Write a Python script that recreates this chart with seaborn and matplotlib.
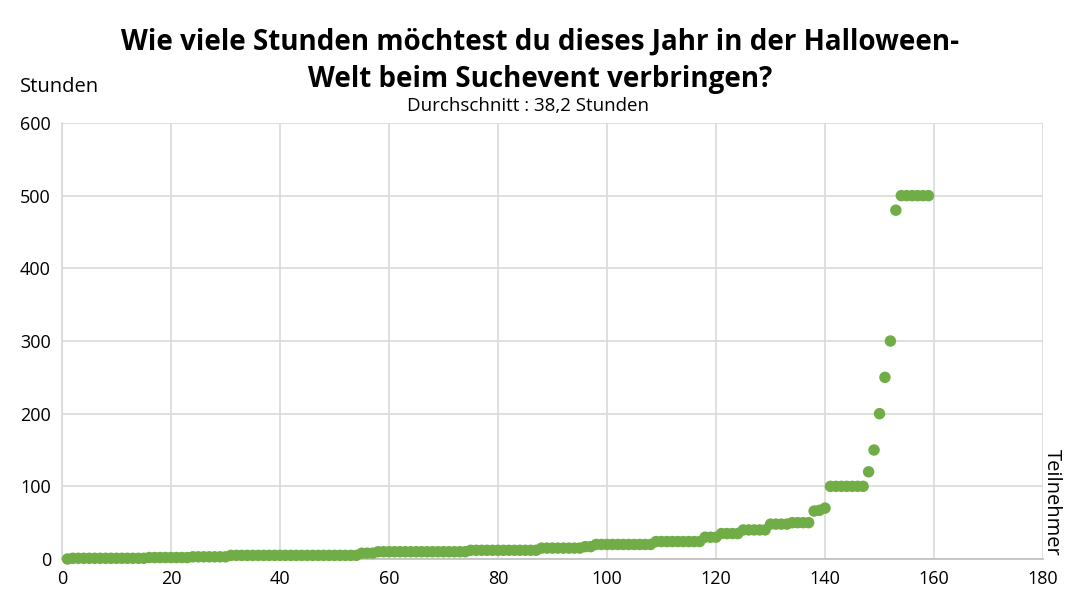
import matplotlib
matplotlib.use("Agg")
import matplotlib.pyplot as plt
import seaborn as sns
import pandas as pd
import numpy as np

# Step levels (value, count), sorted ascending
levels = [0, 1, 2, 3, 5, 8, 10, 12, 15, 17, 20, 24, 30, 35, 40, 48, 50,
          66, 67, 70, 100, 120, 150, 200, 250, 300, 480, 500]
counts = [1, 14, 8, 7, 24, 3, 17, 13, 8, 2, 11, 9, 3, 4, 5, 4, 4,
          1, 1, 1, 7, 1, 1, 1, 1, 1, 1, 6]

values = []
for v, c in zip(levels, counts):
    values += [v] * c
participants = list(range(1, len(values) + 1))

title = "Wie viele Stunden möchtest du dieses Jahr in der Halloween-\nWelt beim Suchevent verbringen?"
subtitle = "Durchschnitt : 38,2 Stunden"
xticks = [0, 20, 40, 60, 80, 100, 120, 140, 160, 180]
yticks = [0, 100, 200, 300, 400, 500, 600]

sns.set_theme(style="white")
plt.rcParams['font.family'] = ['Open Sans', 'DejaVu Sans']
plt.rcParams['text.color'] = 'black'

fig = plt.figure(figsize=(10.78, 6.07), dpi=100)
ax = fig.add_axes([62/1078, 1-559/607, (1043-62)/1078, (559-123)/607])

df = pd.DataFrame({"Teilnehmer": participants, "Stunden": values})
sns.scatterplot(data=df, x="Teilnehmer", y="Stunden", ax=ax, color="#70AD47",
                s=68, edgecolor="none", zorder=3, clip_on=False)

ax.set_xlim(0, 180)
ax.set_ylim(0, 600)
ax.set_xticks(xticks)
ax.set_yticks(yticks)
ax.grid(True, color="#D9D9D9", linewidth=1.2)
ax.set_axisbelow(True)
for s in ["top", "right"]:
    ax.spines[s].set_visible(False)
ax.spines["left"].set_color("#D9D9D9")
ax.spines["left"].set_linewidth(1.2)
ax.spines["bottom"].set_color("#BFBFBF")
ax.spines["bottom"].set_linewidth(1.2)
ax.tick_params(axis="both", length=0, labelsize=13, colors="#000000", pad=8)
ax.set_xlabel("")
ax.set_ylabel("")

fig.text(540/1078, 1-61/607, title, ha="center", va="center", fontsize=20,
         fontweight="bold", linespacing=1.38, color="black")
fig.text(528/1078, 1-106/607, subtitle, ha="center", va="center", fontsize=13.5,
         color="black")
fig.text(20/1078, 1-87/607, "Stunden", ha="left", va="center", fontsize=14.5,
         color="black")
fig.text(1052/1078, 1-502/607, "Teilnehmer", ha="center", va="center",
         fontsize=14.5, rotation=-90, color="black")

fig.savefig("out.png", dpi=100)
